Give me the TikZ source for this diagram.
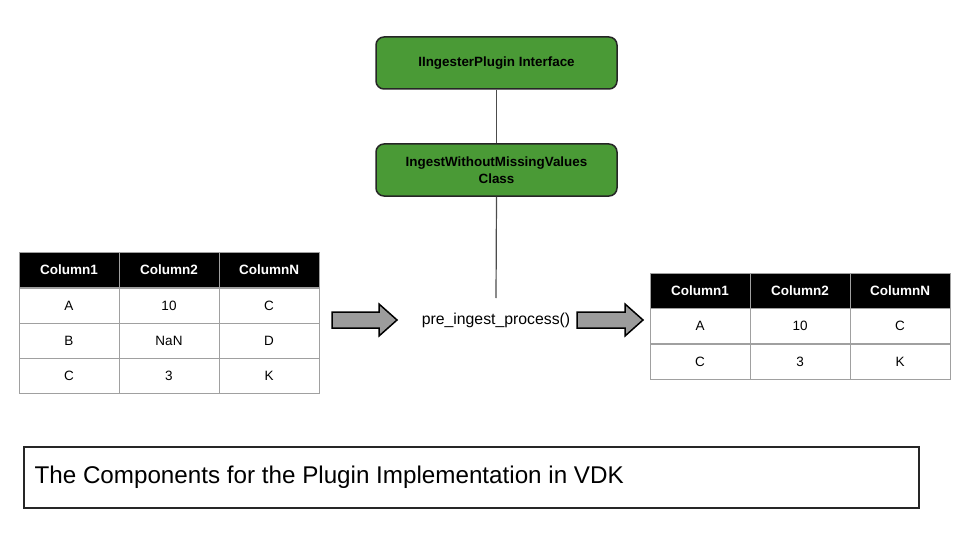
\documentclass[tikz,border=0pt]{standalone}
\usepackage{fontspec}
\setmainfont{Liberation Sans}
\begin{document}
\begin{tikzpicture}[x=1pt,y=-1pt,
  greenbox/.style={draw=black!85,line width=1.5pt,fill=boxgreen,rounded corners=8pt,minimum width=241pt,minimum height=52pt,align=center,font=\bfseries\fontsize{13.4}{17}\selectfont,inner sep=0pt},
  cell/.style={draw=gridgray,line width=0.8pt,minimum width=100pt,minimum height=35pt,inner sep=0pt,font=\fontsize{13.5}{15}\selectfont},
  head/.style={cell,fill=black,text=white,font=\bfseries\fontsize{13.5}{15}\selectfont},
  conn/.style={draw=black!70,line width=1.2pt},
  fatarrow/.style={draw=black,line width=1.5pt,fill=arrowgray,line join=miter}]
\definecolor{boxgreen}{HTML}{4A9A36}
\definecolor{gridgray}{HTML}{A0A0A0}
\definecolor{arrowgray}{HTML}{9C9C9C}
\useasboundingbox[fill=white] (0,0) rectangle (960,540);

% green boxes
\node[greenbox] (iface) at (496.5,63) {IIngesterPlugin Interface};
\node[greenbox] (cls) at (496.5,170) {IngestWithoutMissingValues\\Class};
\node[font=\fontsize{15.8}{18}\selectfont] (proc) at (496,320) {pre\_ingest\_process()};
\coordinate (ptop) at (496,298);
\draw[conn] (iface.south) -- (cls.north);
\draw[conn] (cls.south) -- (ptop);

% left table
\node[head] (l11) at (69,270) {Column1};
\node[head] (l12) at (169,270) {Column2};
\node[head] (l13) at (269,270) {ColumnN};
\node[cell] (l21) at (69,305.5) {A};
\node[cell] (l22) at (169,305.5) {10};
\node[cell] (l23) at (269,305.5) {C};
\node[cell] (l31) at (69,340.5) {B};
\node[cell] (l32) at (169,340.5) {NaN};
\node[cell] (l33) at (269,340.5) {D};
\node[cell] (l41) at (69,375.5) {C};
\node[cell] (l42) at (169,375.5) {3};
\node[cell] (l43) at (269,375.5) {K};

% right table
\node[head] (r11) at (700,290.5) {Column1};
\node[head] (r12) at (800,290.5) {Column2};
\node[head] (r13) at (900,290.5) {ColumnN};
\node[cell] (r21) at (700,326) {A};
\node[cell] (r22) at (800,326) {10};
\node[cell] (r23) at (900,326) {C};
\node[cell] (r31) at (700,361.5) {C};
\node[cell] (r32) at (800,361.5) {3};
\node[cell] (r33) at (900,361.5) {K};

% block arrows
\draw[fatarrow] (332,312) -- (379,312) -- (379,304) -- (397,320) -- (379,336) -- (379,328) -- (332,328) -- cycle;
\draw[fatarrow] (577,312) -- (625,312) -- (625,304) -- (643,320) -- (625,336) -- (625,328) -- (577,328) -- cycle;

% caption
\node[draw=black!85,line width=1.2pt,minimum width=895pt,minimum height=61pt,inner sep=0pt] (cap) at (471.5,477.5) {};
\node[anchor=west,font=\fontsize{24.2}{28}\selectfont,inner sep=0pt] (captext) at ([xshift=11pt]cap.west) {The Components for the Plugin Implementation in VDK};
\end{tikzpicture}
\end{document}
